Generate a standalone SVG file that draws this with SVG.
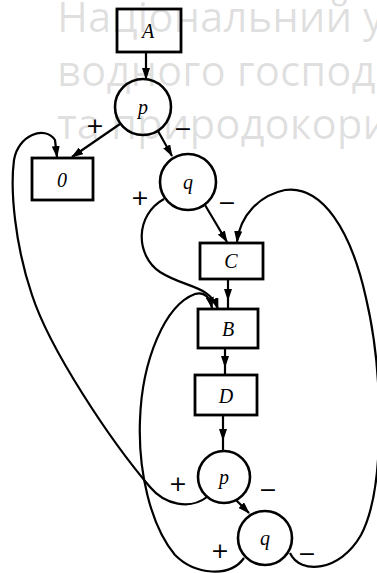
<svg xmlns="http://www.w3.org/2000/svg" width="377" height="573" viewBox="0 0 377 573">
<defs>
<style>
.box{fill:#fff;stroke:#000;stroke-width:2.8}
.node{fill:#fff;stroke:#000;stroke-width:2.6}
.lbl{font-family:"Liberation Serif",serif;font-style:italic;font-size:20px;text-anchor:middle;fill:#000}
.sign{font-family:"DejaVu Sans",sans-serif;font-size:22px;text-anchor:middle;dominant-baseline:central;fill:#000}
.edge{fill:none;stroke:#000;stroke-width:2.2}
.wm{font-family:"Open Sans",sans-serif;font-size:42px;fill:#000;fill-opacity:0.13}
</style>
<marker id="ah" viewBox="0 0 12 8" refX="11" refY="4" markerWidth="12" markerHeight="8" markerUnits="userSpaceOnUse" orient="auto">
<path d="M0,0 L12,4 L0,8 z" fill="#000"/>
</marker>
</defs>
<rect width="377" height="573" fill="#fff"/>
<g id="connectors">
<path class="edge" d="M146,52 L146,79" marker-end="url(#ah)"/>
<path class="edge" d="M120,124 L72,157" marker-end="url(#ah)"/>
<path class="edge" d="M158,131 L172,156" marker-end="url(#ah)"/>
<path class="edge" d="M205,205 L227,242" marker-end="url(#ah)"/>
<path class="edge" d="M164,199 C135,215 135,255 160,272 C185,288 210,285 218,309" marker-end="url(#ah)"/>
<path class="edge" d="M228,279 L228,300 L228,309" marker-mid="url(#ah)"/>
<path class="edge" d="M225,348 L225,367 L225,375" marker-mid="url(#ah)"/>
<path class="edge" d="M223,415 L223,440 L223,451" marker-mid="url(#ah)"/>
<path class="edge" d="M236,500 L249,513" marker-end="url(#ah)"/>
<path class="edge" d="M290,553 C300,575 340,572 361,535 C386,488 383,370 366,298 C351,230 322,185 285,190 C260,195 240,215 237,242" marker-end="url(#ah)"/>
<path class="edge" d="M244,558 C230,578 195,575 175,555 C150,525 138,470 140,420 C142,360 165,305 195,294 C205,291 210,298 212,308" marker-end="url(#ah)"/>
<path class="edge" d="M207,497 C190,510 165,505 150,487 C110,440 50,350 32,295 C15,245 10,190 14,160 C18,135 45,125 55,140 L57,157" marker-end="url(#ah)"/>
</g>
<g id="node-A"><rect class="box" x="117" y="9" width="64" height="43"/><text class="lbl" x="148" y="38">A</text></g>
<g id="node-p1"><circle class="node" cx="143" cy="107" r="28"/><text class="lbl" x="143" y="114">p</text></g>
<g id="node-0"><rect class="box" x="32" y="158" width="61" height="42"/><text class="lbl" x="62" y="187">0</text></g>
<g id="node-q1"><circle class="node" cx="188" cy="182" r="28"/><text class="lbl" x="188" y="189">q</text></g>
<g id="node-C"><rect class="box" x="200" y="243" width="63" height="36"/><text class="lbl" x="231" y="268">C</text></g>
<g id="node-B"><rect class="box" x="198" y="309" width="60" height="39"/><text class="lbl" x="228" y="336">B</text></g>
<g id="node-D"><rect class="box" x="195" y="375" width="62" height="40"/><text class="lbl" x="226" y="403">D</text></g>
<g id="node-p2"><circle class="node" cx="224" cy="477" r="26"/><text class="lbl" x="224" y="484">p</text></g>
<g id="node-q2"><circle class="node" cx="265" cy="538" r="27"/><text class="lbl" x="265" y="545">q</text></g>
<g id="signs">
<text class="sign" x="95" y="125">+</text>
<text class="sign" x="183" y="128">−</text>
<text class="sign" x="140" y="197">+</text>
<text class="sign" x="227" y="202">−</text>
<text class="sign" x="178" y="483">+</text>
<text class="sign" x="268" y="489">−</text>
<text class="sign" x="220" y="550">+</text>
<text class="sign" x="307" y="553">−</text>
</g>
<g id="watermark">
<text class="wm" x="57" y="32">Національний у</text>
<text class="wm" x="57" y="86">водного господ</text>
<text class="wm" x="57" y="139">та природокори</text>
</g>
</svg>
